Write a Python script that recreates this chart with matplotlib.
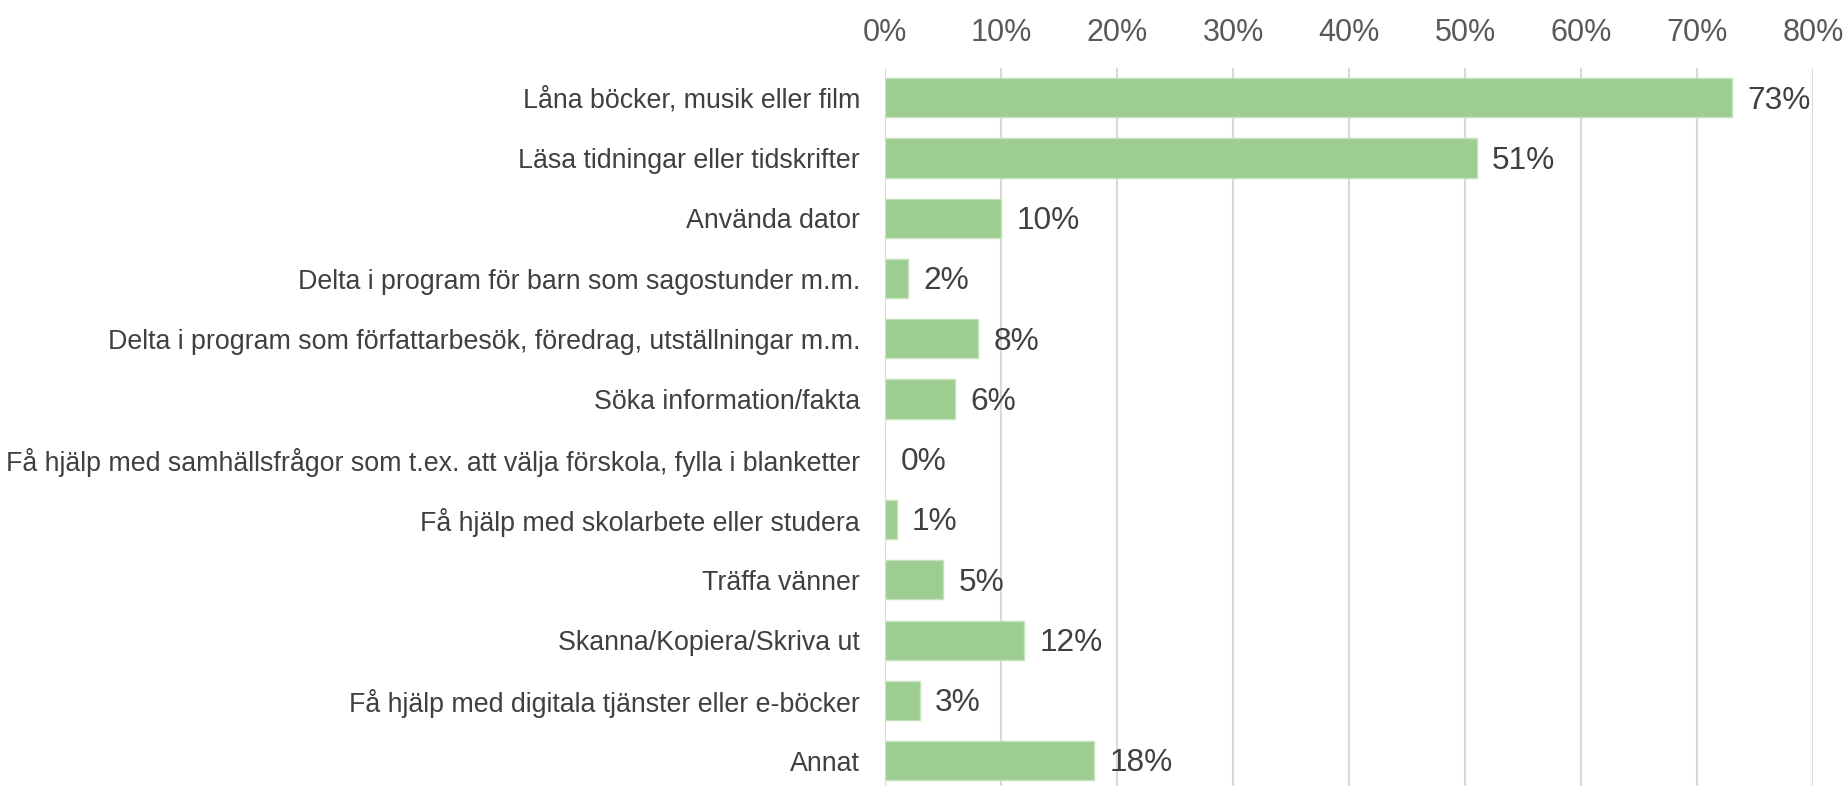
import numpy as np
import matplotlib.pyplot as plt
from matplotlib.ticker import FuncFormatter

plt.rcParams['font.family'] = ['Liberation Sans', 'DejaVu Sans']

# Data
categories = [
    "Låna böcker, musik eller film",
    "Läsa tidningar eller tidskrifter",
    "Använda dator",
    "Delta i program för barn som sagostunder m.m.",
    "Delta i program som författarbesök, föredrag, utställningar m.m.",
    "Söka information/fakta",
    "Få hjälp med samhällsfrågor som t.ex. att välja förskola, fylla i blanketter",
    "Få hjälp med skolarbete eller studera",
    "Träffa vänner",
    "Skanna/Kopiera/Skriva ut",
    "Få hjälp med digitala tjänster eller e-böcker",
    "Annat",
]
values = [73, 51, 10, 2, 8, 6, 0, 1, 5, 12, 3, 18]
x_ticks = [0, 10, 20, 30, 40, 50, 60, 70, 80]

fig = plt.figure(figsize=(18.46, 7.86), dpi=100)
ax = fig.add_axes([0.4795, 0.0, 0.5027, 0.914])

y = np.arange(len(categories))
bars = ax.barh(y, values, height=0.65, color='#9DCD90', edgecolor='#C5E3BB',
               linewidth=1, zorder=3)

ax.set_xlim(0, 80)
ax.set_ylim(len(categories) - 0.58, -0.5)
ax.set_yticks(y)
ax.set_yticklabels(categories)
ax.set_xticks(x_ticks)
ax.xaxis.set_major_formatter(FuncFormatter(lambda v, p: f"{v:.0f}%"))
ax.xaxis.tick_top()

ax.tick_params(axis='x', length=0, pad=14, labelsize=22, labelcolor='#595959')
ax.tick_params(axis='y', length=0, pad=18, labelsize=19.3, labelcolor='#404040')

ax.grid(axis='x', color='#D9D9D9', linewidth=1.5, zorder=0)
for s in ax.spines.values():
    s.set_visible(False)

# value labels next to the bars
for yi, v in zip(y, values):
    ax.annotate(f"{v}%", xy=(v, yi), xytext=(11, -2), textcoords='offset points',
                va='center', ha='left', fontsize=22.8, color='#404040')

fig.savefig("out.png", dpi=100)
